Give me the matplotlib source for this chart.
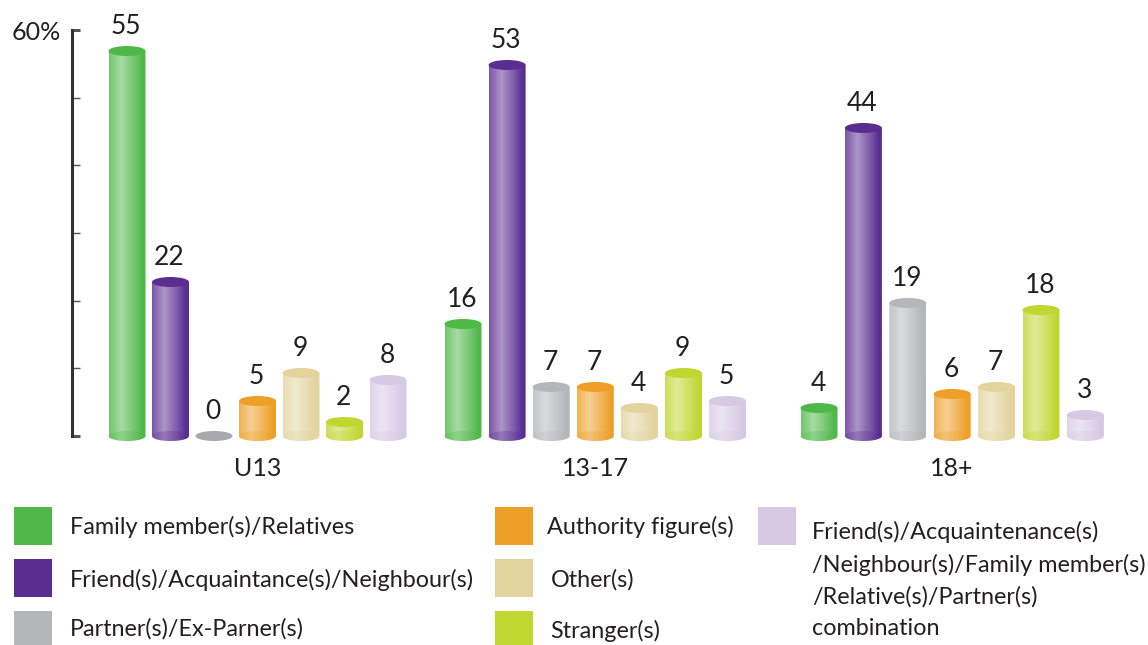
#!/usr/bin/env python3
import numpy as np
import matplotlib
matplotlib.use("Agg")
import matplotlib.pyplot as plt
from matplotlib.colors import to_rgb
from matplotlib.patches import Ellipse, Polygon, Rectangle

plt.rcParams['font.family'] = ['Lato', 'DejaVu Sans']

# data
groups = ["U13", "13-17", "18+"]
series = ["Family member(s)/Relatives", "Friend(s)/Acquaintance(s)/Neighbour(s)",
          "Partner(s)/Ex-Parner(s)", "Authority figure(s)", "Other(s)", "Stranger(s)",
          "Friend(s)/Acquaintenance(s)\n/Neighbour(s)/Family member(s)\n/Relative(s)/Partner(s)\ncombination"]
u13 = [55, 22, 0, 5, 9, 2, 8]
teen = [16, 53, 7, 7, 4, 9, 5]
adult = [4, 44, 19, 6, 7, 18, 3]
colors = ['#4fb848', '#5a2d91', '#b4b6b9', '#ee9f27', '#e2d49c', '#bfd730', '#d7c9e4']
axis_ticks = [0, 10, 20, 30, 40, 50, 60]

W, H = 1148, 645
BASE = 436       # pixel row of the zero line
PX = 7.0         # pixels per unit for the cylinders
BAR_W = 37
RY = 5.0 / PX
TXT = '#231f20'
group_left = [127, 463, 819]
group_step = [43.5, 44.1, 44.4]

fig = plt.figure(figsize=(W / 100, H / 100), dpi=100)
ax = fig.add_axes([0, 0, 1, 1])
ax.set_xlim(0, W)
ax.set_ylim((BASE - H) / PX, BASE / PX)
ax.axis('off')


def cylinder(x, val, col):
    rgb = np.array(to_rgb(col))
    if val == 0:
        ax.add_patch(Ellipse((x, 0), BAR_W, 2 * RY, color='#a7a9ac', lw=0))
        return
    # side of the cylinder: horizontal gradient clipped to the body
    pos = [0, 0.33, 0.7, 0.92, 1]
    mix = [0.2, 0.5, 0.2, 0.0, 0.0]
    m = np.interp(np.linspace(0, 1, 80), pos, mix)[None, :, None]
    img = rgb[None, None, :] * (1 - m) + m
    t = np.linspace(np.pi, 2 * np.pi, 30)
    low = np.column_stack([x + BAR_W / 2 * np.cos(t), RY * np.sin(t)])
    body = Polygon(np.vstack([[[x - BAR_W / 2, val]], low, [[x + BAR_W / 2, val]]]),
                   transform=ax.transData, fc='none', ec='none')
    ax.add_patch(body)
    im = ax.imshow(img, extent=[x - BAR_W / 2, x + BAR_W / 2, -RY, val], aspect='auto', zorder=2)
    im.set_clip_path(body)
    ax.add_patch(Ellipse((x, 0), BAR_W, 2 * RY, color=col, alpha=0.28, lw=0, zorder=3))
    ax.add_patch(Ellipse((x, val), BAR_W, 2 * RY, color=col, lw=0, zorder=4))


for g, vals in enumerate([u13, teen, adult]):
    for i, v in enumerate(vals):
        x = group_left[g] + i * group_step[g]
        cylinder(x, v, colors[i])
        ax.annotate(str(v), (x - 1, v), xytext=(0, 17.5), textcoords='offset points',
                    ha='center', va='center', fontsize=19, color=TXT)
    ax.text(group_left[g] + 3 * group_step[g], (BASE - 469) / PX, groups[g],
            ha='center', va='center', fontsize=18, color=TXT)
ax.set_xlim(0, W)
ax.set_ylim((BASE - H) / PX, BASE / PX)

# value axis on its own scale: 60% sits lower than the cylinder scale would put it
ax_y = fig.add_axes([72 / W, (H - BASE) / H, 0.05, (BASE - 30) / H])
ax_y.patch.set_visible(False)
ax_y.set_ylim(0, 60)
ax_y.set_xticks([])
for s in ['top', 'right', 'bottom']:
    ax_y.spines[s].set_visible(False)
ax_y.spines['left'].set_linewidth(2.2)
ax_y.spines['left'].set_color('#333132')
ax_y.spines['left'].set_capstyle('projecting')
ax_y.set_yticks(axis_ticks)
ax_y.set_yticklabels(['', '', '', '', '', '', '60%'], fontsize=18, color=TXT)
ax_y.tick_params(axis='y', direction='in', length=6, width=1, color='#555555', pad=8)
for i in (0, 6):
    ln = ax_y.yaxis.get_major_ticks()[i].tick1line
    ln.set_markeredgewidth(2.2)
    ln.set_color('#333132')

# legend, laid out by hand like the original
leg = fig.add_axes([0, 0, 1, 1])
leg.set_xlim(0, W)
leg.set_ylim(H, 0)
leg.axis('off')
swatch_x = [14, 14, 14, 495, 495, 495, 758]
swatch_y = [507, 559, 611, 507, 559, 611, 507]
text_x = [70, 70, 70, 547, 551, 550, 812]
text_y = [527, 580, 629, 527, 580, 631, 580]
for i, name in enumerate(series):
    leg.add_patch(Rectangle((swatch_x[i], swatch_y[i]), 38, 38, fc=colors[i], lw=0))
    leg.text(text_x[i], text_y[i], name, ha='left', va='center', fontsize=16.8,
             color=TXT, linespacing=1.6)

fig.savefig("out.png", dpi=100)
